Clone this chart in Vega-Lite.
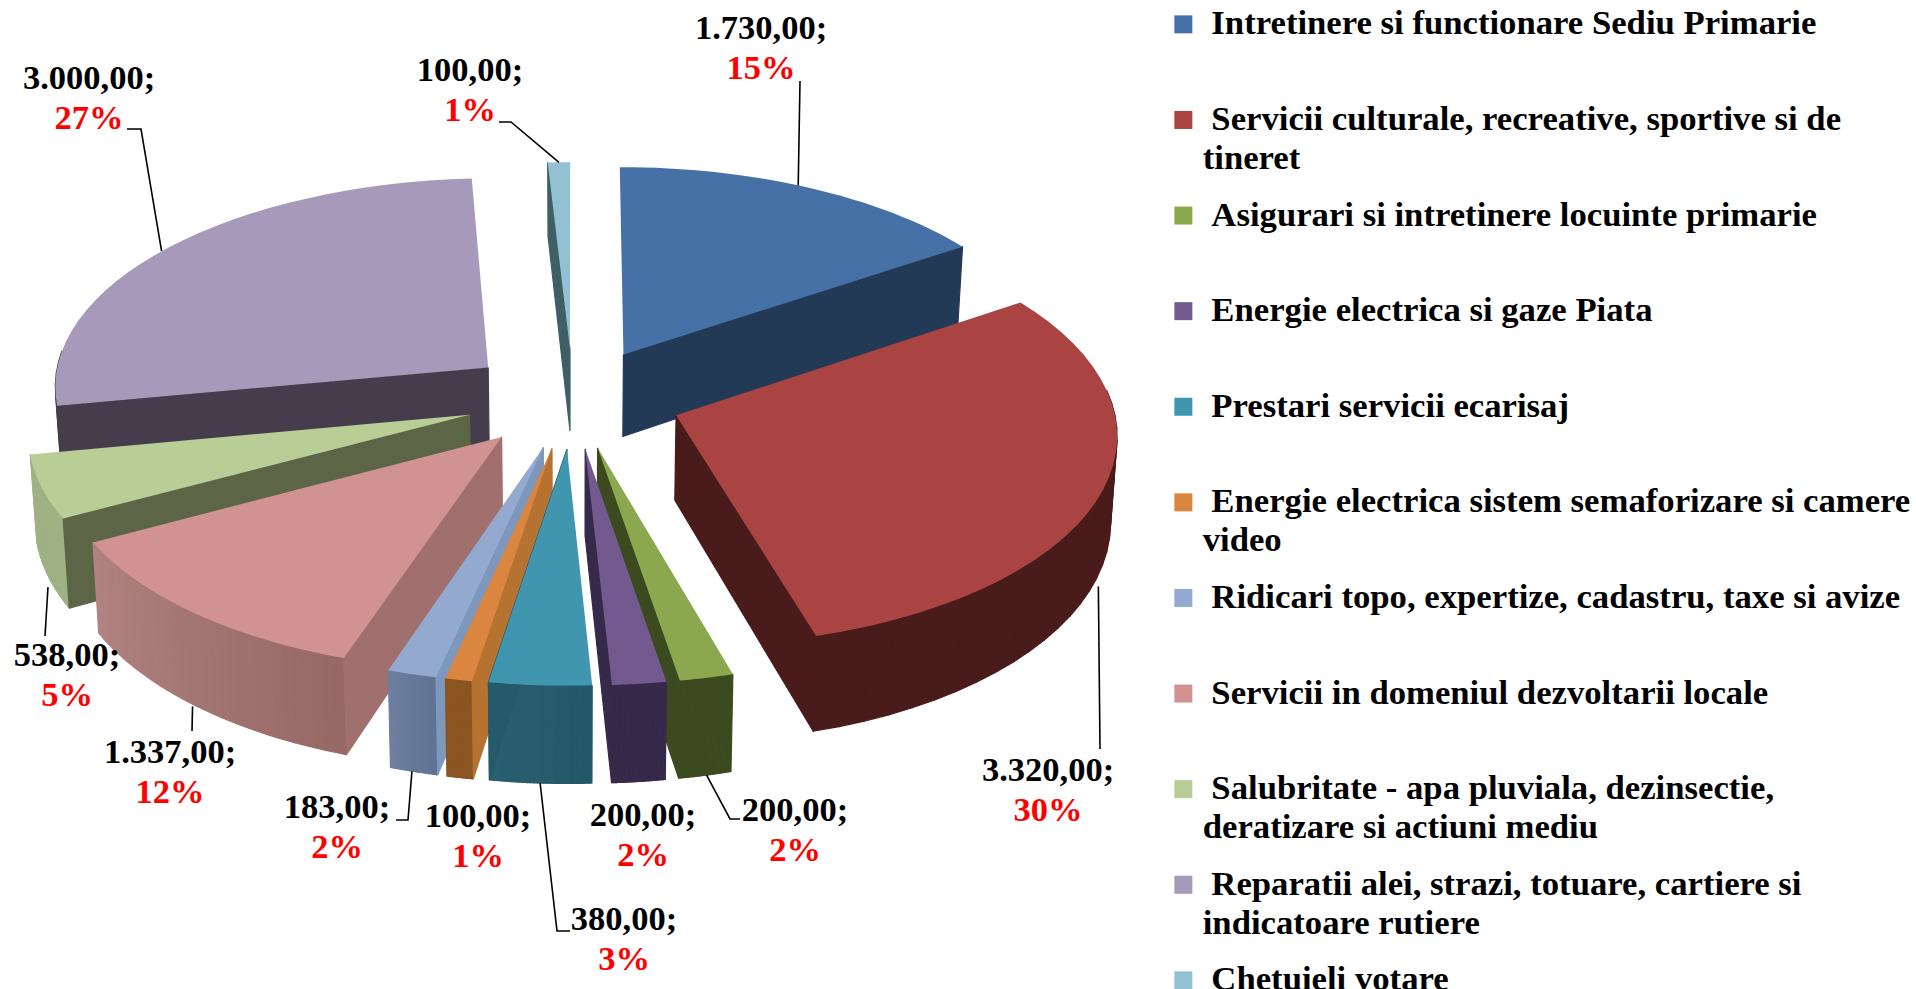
{"$schema":"https://vega.github.io/schema/vega-lite/v6.json","width":1916,"height":989,"padding":0,"autosize":{"type":"none"},"background":"white","config":{"view":{"stroke":null}},
"data":{"values":[
{"idx":10,"name":"Chetuieli votare","value":100,"valueLabel":"100,00;","pct":"1%"},
{"idx":0,"name":"Intretinere si functionare Sediu Primarie","value":1730,"valueLabel":"1.730,00;","pct":"15%"},
{"idx":9,"name":"Reparatii alei, strazi, totuare, cartiere si indicatoare rutiere","value":3000,"valueLabel":"3.000,00;","pct":"27%"},
{"idx":8,"name":"Salubritate - apa pluviala, dezinsectie, deratizare si actiuni mediu","value":538,"valueLabel":"538,00;","pct":"5%"},
{"idx":1,"name":"Servicii culturale, recreative, sportive si de tineret","value":3320,"valueLabel":"3.320,00;","pct":"30%"},
{"idx":7,"name":"Servicii in domeniul dezvoltarii locale","value":1337,"valueLabel":"1.337,00;","pct":"12%"},
{"idx":6,"name":"Ridicari topo, expertize, cadastru, taxe si avize","value":183,"valueLabel":"183,00;","pct":"2%"},
{"idx":5,"name":"Energie electrica sistem semaforizare si camere video","value":100,"valueLabel":"100,00;","pct":"1%"},
{"idx":2,"name":"Asigurari si intretinere locuinte primarie","value":200,"valueLabel":"200,00;","pct":"2%"},
{"idx":3,"name":"Energie electrica si gaze Piata","value":200,"valueLabel":"200,00;","pct":"2%"},
{"idx":4,"name":"Prestari servicii ecarisaj","value":380,"valueLabel":"380,00;","pct":"3%"}
]},
"transform":[
{"stack":"value","groupby":[],"sort":[{"field":"idx","order":"ascending"}],"as":["s0","s1"]},
{"joinaggregate":[{"op":"sum","field":"value","as":"total"}]},
{"calculate":"2*PI*datum.s0/datum.total","as":"a0"},
{"calculate":"2*PI*datum.s1/datum.total","as":"a1"},
{"calculate":"(datum.a0+datum.a1)/2","as":"m"},
{"calculate":"0.25*sin(datum.m)","as":"ex"},
{"calculate":"0.24*cos(datum.m)","as":"ez"}
],
"encoding":{"x":{"field":"px","type":"quantitative","axis":null,"scale":{"domain":[-574,1342],"nice":false,"zero":false}},"y":{"field":"py","type":"quantitative","axis":null,"scale":{"domain":[-591,398],"nice":false,"zero":false}}},
"layer":[
{"transform":[
{"calculate":"[0,1,2,3,4,5,6,7,8,9,10,11,12,13,14,15,16,17,18,19,20,21,22,23,24,25,26,27,28,29,30,31,32,33]","as":"f"},{"flatten":["f"]},
{"filter":"datum.f<32 ? cos(datum.a0+(datum.a1-datum.a0)*(datum.f+0.5)/32)<0.1 : (datum.f==32 ? datum.idx>=5 : datum.idx<=4)"},
{"calculate":"[0,1,2,3,4]","as":"p"},{"flatten":["p"]},
{"calculate":"datum.f<32?1:((datum.p==0||datum.p==3||datum.p==4)?0:1)","as":"r"},
{"calculate":"datum.f<32?((datum.p==0||datum.p==3||datum.p==4)?datum.a0+(datum.a1-datum.a0)*datum.f/32:datum.a0+(datum.a1-datum.a0)*(datum.f+1)/32):(datum.f==32?datum.a0:datum.a1)","as":"t"},
{"calculate":"(datum.p<2||datum.p==4)?0:1","as":"h"},
{"calculate":"datum.r*sin(datum.t)+datum.ex","as":"X3"},
{"calculate":"datum.r*cos(datum.t)+datum.ez","as":"Z3"},
{"calculate":"1+0.08*datum.Z3","as":"w"},
{"calculate":"436*datum.X3/datum.w*(1-0.012*datum.h)-1","as":"px"},
{"calculate":"209*datum.Z3/datum.w-84*datum.h/(1+0.114*datum.Z3)","as":"py"},
{"calculate":"datum.idx+'-'+datum.f","as":"face"},
{"calculate":"[[35,58,88],[74,27,27],[60,74,32],[54,42,74],[35,88,105],[139,85,34],[95,115,148],[150,104,102],[160,177,132],[69,61,76],[63,95,102]][datum.idx]","as":"c0"},
{"calculate":"[[35,58,88],[74,27,27],[60,74,32],[54,42,74],[42,95,112],[139,85,34],[109,127,158],[176,130,128],[160,177,132],[69,61,76],[63,95,102]][datum.idx]","as":"c1"},
{"calculate":"['','','','','','#b57230','#7e97bc','#a0706e','#5c6646','#453d4c','#3f5f66'][datum.idx]","as":"sa"},
{"calculate":"['#223a56','#4a1b1b','#3c4a20','#362a4a','#255a6b','','','','','',''][datum.idx]","as":"sb"},
{"calculate":"datum.f==32?datum.sa:(datum.f==33?datum.sb:'rgb('+round(datum.c0[0]+(datum.c1[0]-datum.c0[0])*datum.f/31)+','+round(datum.c0[1]+(datum.c1[1]-datum.c0[1])*datum.f/31)+','+round(datum.c0[2]+(datum.c1[2]-datum.c0[2])*datum.f/31)+')')","as":"shade"}
],
"mark":{"type":"line","filled":true,"strokeWidth":1.2,"strokeJoin":"round","interpolate":"linear"},
"encoding":{"detail":{"field":"face"},"order":{"field":"p","type":"quantitative"},"fill":{"field":"shade","type":"nominal","scale":null},"stroke":{"field":"shade","type":"nominal","scale":null}}},
{"transform":[
{"calculate":"[0,1,2,3,4,5,6,7,8,9,10,11,12,13,14,15,16,17,18,19,20,21,22,23,24,25,26,27,28,29,30,31,32,33]","as":"i"},{"flatten":["i"]},
{"calculate":"datum.i==0?0:1","as":"r"},
{"calculate":"datum.a0+(datum.a1-datum.a0)*(datum.i-1)/32","as":"t"},
{"calculate":"datum.r*sin(datum.t)+datum.ex","as":"X3"},
{"calculate":"datum.r*cos(datum.t)+datum.ez","as":"Z3"},
{"calculate":"1+0.08*datum.Z3","as":"w"},
{"calculate":"436*datum.X3/datum.w-1","as":"px"},
{"calculate":"209*datum.Z3/datum.w","as":"py"}
],
"mark":{"type":"line","filled":true,"strokeWidth":0,"interpolate":"linear"},
"encoding":{"order":{"field":"i","type":"quantitative"},"detail":{"field":"name"},"fill":{"field":"name","type":"nominal","scale":{"domain":["Intretinere si functionare Sediu Primarie","Servicii culturale, recreative, sportive si de tineret","Asigurari si intretinere locuinte primarie","Energie electrica si gaze Piata","Prestari servicii ecarisaj","Energie electrica sistem semaforizare si camere video","Ridicari topo, expertize, cadastru, taxe si avize","Servicii in domeniul dezvoltarii locale","Salubritate - apa pluviala, dezinsectie, deratizare si actiuni mediu","Reparatii alei, strazi, totuare, cartiere si indicatoare rutiere","Chetuieli votare"],"range":["#4571a6","#a94442","#8ba84e","#725a8f","#4196af","#da8540","#93a9d0","#d09392","#b9cd96","#a799b9","#92c1d4"]},
"legend":{"title":null,"orient":"none","legendX":1166,"legendY":7,"symbolType":"square","symbolSize":324,"symbolStrokeWidth":0,"labelFont":"Liberation Serif","labelFontWeight":"bold","labelFontSize":34.7,"labelColor":"black","labelLimit":800,"labelOffset":2,"rowPadding":20.6,"labelExpr":"split('\u200b\u00a0'+replace(datum.label,/ (tineret|video|deratizare|indicatoare)/,'|$1')+(test(/ (tineret|video|deratizare|indicatoare)/,datum.label)?'':'|\u00a0'),'|')","encoding":{"labels":{"lineHeight":{"value":39}}}}}}},
{"transform":[
{"filter":"datum.idx!=3&&datum.idx!=5"},
{"calculate":"[0,1,2]","as":"q"},{"flatten":["q"]},
{"calculate":"[0,1,1,1,1,1,1,1,1,0,0][datum.idx]","as":"h"},
{"calculate":"datum.a0+(datum.a1-datum.a0)*[0.47,0.52,0.5,0.5,0.5,0.5,0.5,0.5,0.32,0.485,0.5][datum.idx]","as":"t"},
{"calculate":"sin(datum.t)+datum.ex","as":"X3"},
{"calculate":"cos(datum.t)+datum.ez","as":"Z3"},
{"calculate":"1+0.08*datum.Z3","as":"w"},
{"calculate":"[[[226,317],[226,317]],[[526,-351],[526,-351]],[[156,-421],[166,-421]],[[0,0],[0,0]],[[-17,-533],[-4,-533]],[[0,0],[0,0]],[[-166,-422],[-178,-422]],[[-382,-333],[-382,-333]],[[-529,-238],[-529,-238]],[[-433,269],[-447,269]],[[-63,276],[-75,276]]][datum.idx]","as":"elbow"},
{"calculate":"datum.q==0?436*datum.X3/datum.w-1:datum.elbow[datum.q-1][0]","as":"px"},
{"calculate":"datum.q==0?209*datum.Z3/datum.w-84*datum.h/(1+0.114*datum.Z3):datum.elbow[datum.q-1][1]","as":"py"}
],
"mark":{"type":"line","color":"black","strokeWidth":1.6,"interpolate":"linear"},
"encoding":{"detail":{"field":"name"},"order":{"field":"q","type":"quantitative"}}},
{"transform":[
{"calculate":"[[187,369],[474,-373],[221,-413],[69,-418],[50,-522],[-96,-419],[-237,-410],[-404,-355],[-507,-258],[-485,319],[-104,327]][datum.idx][0]","as":"px"},
{"calculate":"[[187,369],[474,-373],[221,-413],[69,-418],[50,-522],[-96,-419],[-237,-410],[-404,-355],[-507,-258],[-485,319],[-104,327]][datum.idx][1]","as":"py"}
],
"mark":{"type":"text","font":"Liberation Serif","fontWeight":"bold","fontSize":34.5,"color":"black","baseline":"middle","align":"center"},
"encoding":{"text":{"field":"valueLabel"}}},
{"transform":[
{"calculate":"[[187,369],[474,-373],[221,-413],[69,-418],[50,-522],[-96,-419],[-237,-410],[-404,-355],[-507,-258],[-485,319],[-104,327]][datum.idx][0]","as":"px"},
{"calculate":"[[187,369],[474,-373],[221,-413],[69,-418],[50,-522],[-96,-419],[-237,-410],[-404,-355],[-507,-258],[-485,319],[-104,327]][datum.idx][1]-40","as":"py"}
],
"mark":{"type":"text","font":"Liberation Serif","fontWeight":"bold","fontSize":34.5,"color":"#ff0000","baseline":"middle","align":"center"},
"encoding":{"text":{"field":"pct"}}}
]}
